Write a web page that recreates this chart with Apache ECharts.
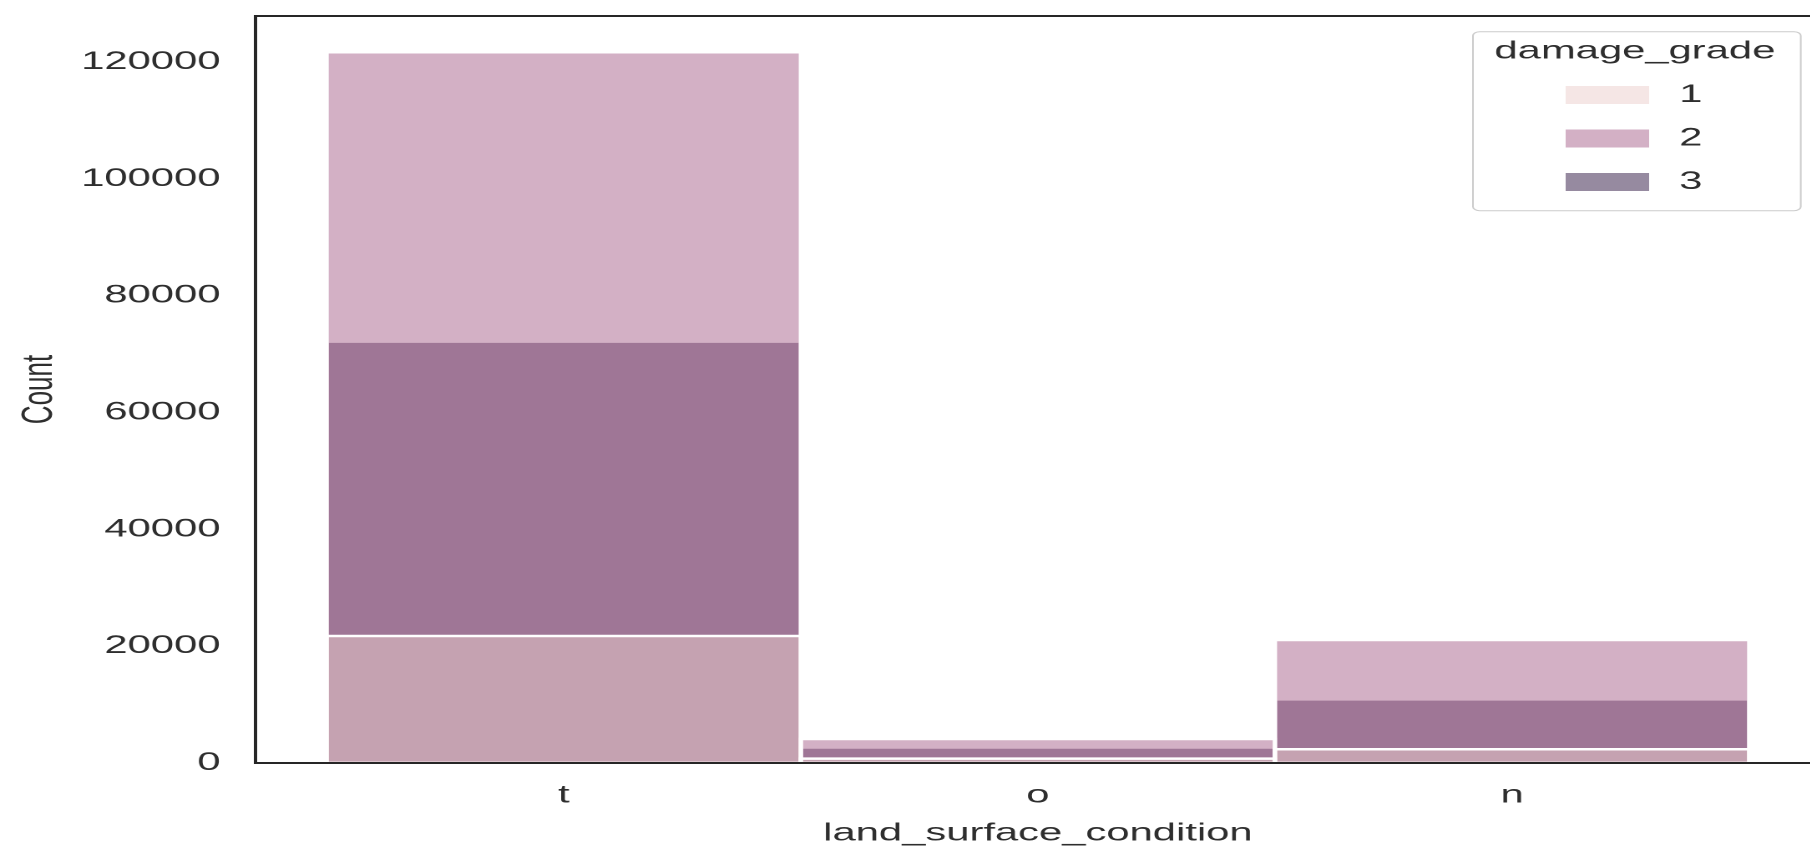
<!DOCTYPE html>
<html>
<head>
<meta charset="utf-8">
<script src="https://cdn.jsdelivr.net/npm/echarts@6.0.0/dist/echarts.min.js"></script>
<style>
html,body{margin:0;padding:0;overflow:hidden;background:#fff;width:1810px;height:851px;}
#chart{width:1090px;height:851px;transform:scaleX(1.67);transform-origin:0 0;}
</style>
</head>
<body>
<div id="chart"></div>
<script>
// Data (seaborn layered histogram)
const categories = ['t', 'o', 'n'];
const hueLevels = ['1', '2', '3'];
const grade1 = [21750, 750, 2350];
const grade2 = [121700, 4100, 21060];
const grade3 = [72140, 2650, 10900];
const yTicks = [0, 20000, 40000, 60000, 80000, 100000, 120000];

const FONT = 'Liberation Sans';
const TXT = '#2e2e2e';
const colors = {
  '1': 'rgba(236,206,203,0.5)',
  '2': 'rgba(167,97,139,0.5)',
  '3': 'rgba(45,21,65,0.5)'
};
const values = { '1': grade1, '2': grade2, '3': grade3 };

function makeSeries(level) {
  return {
    name: level,
    type: 'custom',
    itemStyle: { color: colors[level] },
    data: categories.map((c, i) => [i, values[level][i]]),
    renderItem: function (params, api) {
      const x = api.value(0), v = api.value(1);
      const p0 = api.coord([x - 0.5, v]);
      const p1 = api.coord([x + 0.5, 0]);
      return {
        type: 'rect',
        shape: { x: p0[0], y: p0[1], width: p1[0] - p0[0], height: p1[1] - p0[1] },
        style: { fill: colors[level], stroke: '#ffffff', lineWidth: 2.5 }
      };
    }
  };
}

const chart = echarts.init(document.getElementById('chart'), null, { devicePixelRatio: 2 });
chart.setOption({
  animation: false,
  backgroundColor: '#ffffff',
  grid: { left: 153, right: 0, top: 16, bottom: 88, show: true, borderColor: '#262626', borderWidth: 2,
          backgroundColor: 'transparent', outerBoundsMode: 'none', containLabel: false },
  xAxis: {
    type: 'value', min: -0.65, max: 2.65, z: 5,
    name: 'land_surface_condition', nameLocation: 'middle', nameGap: 58,
    nameTextStyle: { fontSize: 25, fontFamily: FONT, color: TXT },
    axisLine: { show: true, onZero: false, lineStyle: { color: '#262626', width: 2 } },
    axisTick: { show: false },
    splitLine: { show: false },
    axisLabel: {
      customValues: [0, 1, 2],
      formatter: v => categories[Math.round(v)],
      fontSize: 25, fontFamily: FONT, color: TXT, margin: 20
    }
  },
  yAxis: {
    type: 'value', min: 0, max: 127900, interval: 20000, z: 5,
    name: 'Count', nameLocation: 'middle', nameGap: 116,
    nameTextStyle: { fontSize: 26, fontFamily: FONT, color: TXT },
    axisLine: { show: true, onZero: false, lineStyle: { color: '#262626', width: 2 } },
    axisTick: { show: false },
    splitLine: { show: false },
    axisLabel: {
      customValues: yTicks,
      formatter: v => String(v),
      fontSize: 25, fontFamily: FONT, color: TXT, margin: 21
    }
  },
  legend: {
    data: hueLevels, orient: 'vertical', left: 937.5, top: 82.5, padding: 0,
    itemWidth: 50, itemHeight: 18, itemGap: 18.5, icon: 'rect',
    selectedMode: false, z: 10,
    textStyle: { fontSize: 25, fontFamily: FONT, color: TXT, lineHeight: 25, padding: [0, 0, 0, 13] }
  },
  graphic: [
    { type: 'rect', z: 8, shape: { x: 882, y: 31.7, width: 196.3, height: 179, r: 4 },
      style: { fill: 'rgba(255,255,255,0.8)', stroke: '#cccccc', lineWidth: 1 } },
    { type: 'text', z: 9, style: { text: 'damage_grade', x: 979, y: 51.7, align: 'center', verticalAlign: 'middle',
      font: '25px "Liberation Sans"', fill: TXT } }
  ],
  series: [makeSeries('3'), makeSeries('2'), makeSeries('1')]
});
</script>
</body>
</html>
